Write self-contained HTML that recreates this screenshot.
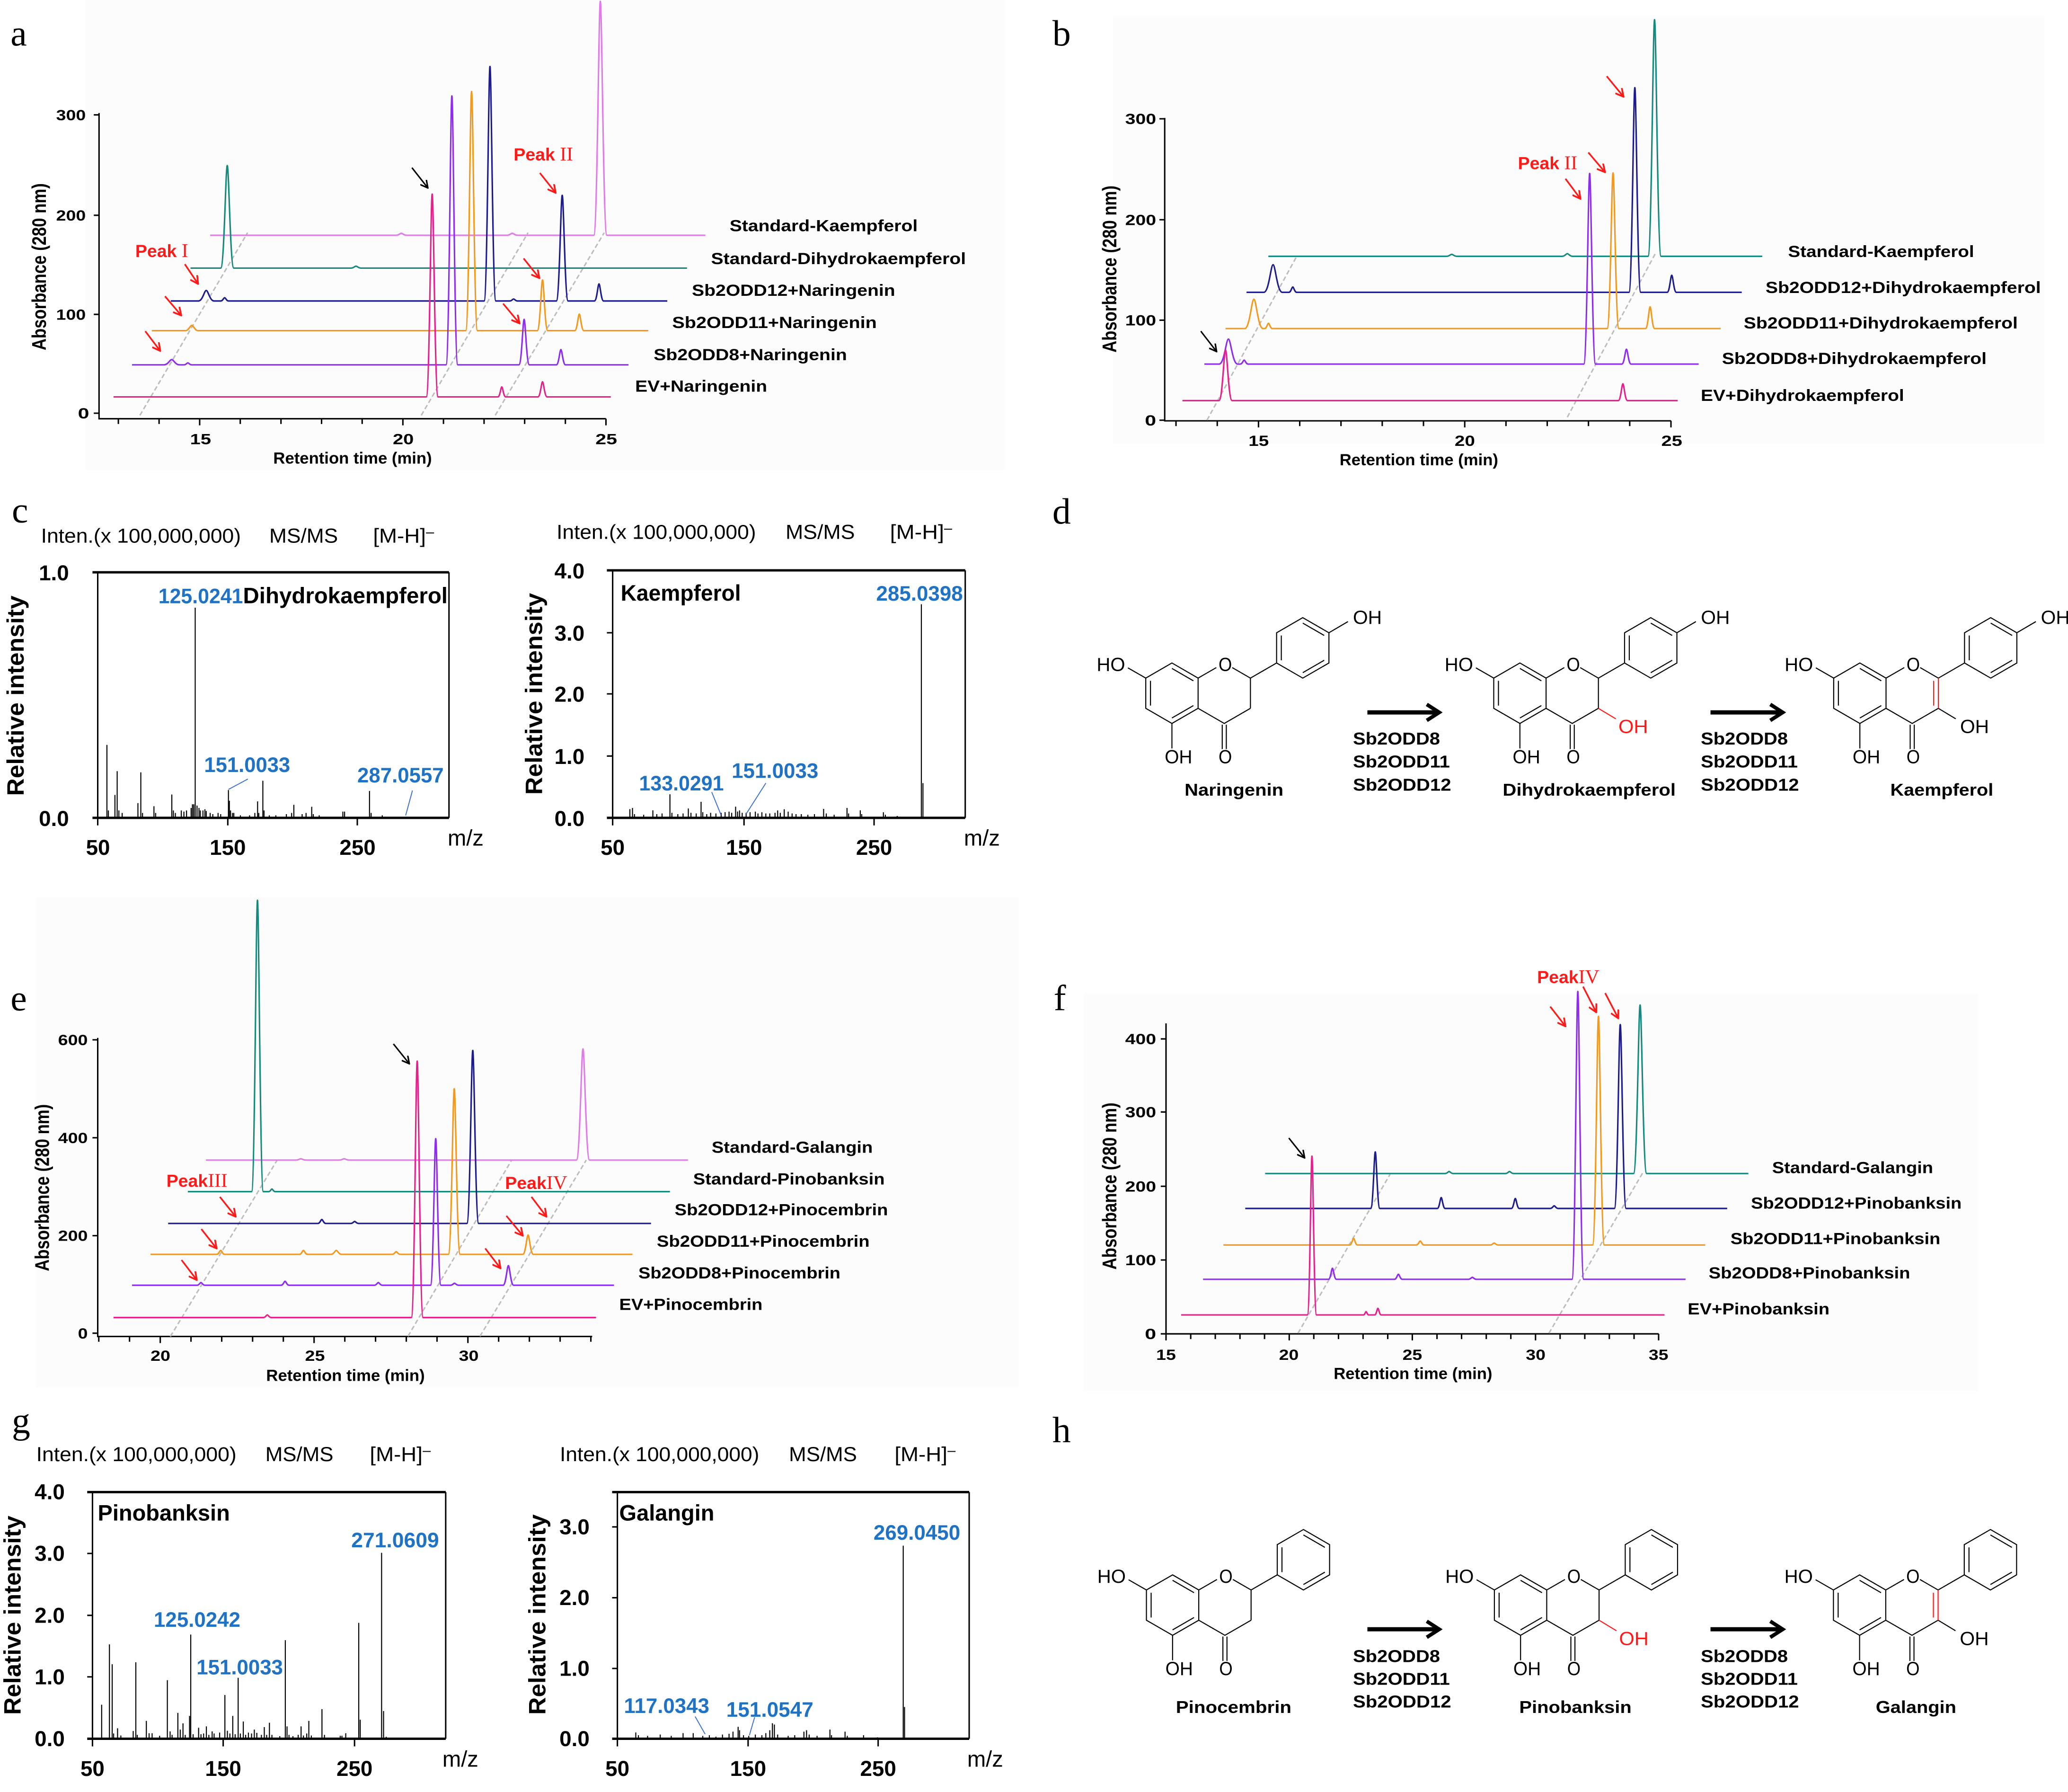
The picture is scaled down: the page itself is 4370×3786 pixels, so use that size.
<!DOCTYPE html>
<html><head><meta charset="utf-8"><style>
html,body{margin:0;padding:0;background:#fff}
svg{display:block}
.ax{stroke:#000;stroke-width:1.1;fill:none}
.tr{fill:none;stroke-width:1.15;stroke-linejoin:round}
.ds{stroke:#bdbdbd;stroke-width:1.1;stroke-dasharray:3.5 2;fill:none}
.ra{stroke:#ff1a1a;stroke-width:1.25;fill:none;marker-end:url(#ar)}
.ka{stroke:#000;stroke-width:1.1;fill:none;marker-end:url(#ak)}
.tk{font-weight:bold;font-size:11.5px}
.lb{font-weight:bold;font-size:12.5px}
.pk{fill:#ff1a1a;font-weight:bold;font-size:13.5px}
.rn{font-family:"Liberation Serif",serif;font-weight:normal;font-size:15px}
.bd{stroke:#000;stroke-width:.8;fill:none}
.ms{stroke:#000;stroke-width:.8;fill:none}
.bx{stroke:#000;stroke-width:1.1;fill:none}
.bt{stroke:#000;stroke-width:1.8;fill:none}
.bl{fill:#1f72c4;font-weight:bold;font-size:16px}
.bn{stroke:#3a6fd0;stroke-width:.7;fill:none}
.hd{font-size:15.5px}
.mt{font-weight:bold;font-size:16.5px}
.mz{font-size:17px}
.ri{font-weight:bold;font-size:18px}
.at{font-size:14.5px}
.nm{font-weight:bold;font-size:13px}
.let{font-family:"Liberation Serif",serif;font-size:28px}
</style></head><body>
<svg xmlns="http://www.w3.org/2000/svg" width="4370" height="3786" viewBox="0 0 1568 1358" preserveAspectRatio="none" font-family="'Liberation Sans', Arial, sans-serif">
<defs>
<marker id="ar" viewBox="0 0 10 10" refX="9" refY="5" markerWidth="7" markerHeight="7" markerUnits="userSpaceOnUse" orient="auto"><path d="M0.5,0.5 L9,5 L0.5,9.5" fill="none" stroke="#ff1a1a" stroke-width="1.9"/></marker>
<marker id="ak" viewBox="0 0 10 10" refX="9" refY="5" markerWidth="6.5" markerHeight="6.5" markerUnits="userSpaceOnUse" orient="auto"><path d="M0.5,0.5 L9,5 L0.5,9.5" fill="none" stroke="#000" stroke-width="1.8"/></marker>
</defs>
<rect width="1568" height="1358" fill="#fff"/>

<!-- ============ PANEL A ============ -->
<g transform="matrix(.996 0 0 .996 0 0)">
<rect x="65" y="0" width="700" height="358" fill="#fcfcfc"/>
<text class="let" x="8" y="34.5">a</text>
<path class="ax" d="M75.4,86V318.6H461.3"/>
<path class="ax" d="M71.4,87.4H75.4M71.4,163.8H75.4M71.4,239.2H75.4M71.4,314.4H75.4M90.1,318.6v4M121.1,318.6v4M152,318.6v5M182.9,318.6v4M213.9,318.6v4M244.8,318.6v4M275.7,318.6v4M306.7,318.6v5M337.6,318.6v4M368.5,318.6v4M399.4,318.6v4M430.4,318.6v4M461.3,318.6v5"/>
<text class="tk" x="42.7" y="91.4" textLength="22.6" lengthAdjust="spacingAndGlyphs">300</text>
<text class="tk" x="42.7" y="167.8" textLength="22.6" lengthAdjust="spacingAndGlyphs">200</text>
<text class="tk" x="42.7" y="243.2" textLength="22.6" lengthAdjust="spacingAndGlyphs">100</text>
<text class="tk" x="59.3" y="318.4" textLength="8.6" lengthAdjust="spacingAndGlyphs">0</text>
<text class="tk" x="144.7" y="338" textLength="16" lengthAdjust="spacingAndGlyphs">15</text>
<text class="tk" x="299" y="338" textLength="16" lengthAdjust="spacingAndGlyphs">20</text>
<text class="tk" x="453.3" y="338" textLength="16.5" lengthAdjust="spacingAndGlyphs">25</text>
<text class="lb" x="268.4" y="352.8" text-anchor="middle" font-size="12.3">Retention time (min)</text>
<text class="lb" transform="translate(34.9,203) rotate(-90) scale(1,1.2)" text-anchor="middle" font-size="13.5">Absorbance (280 nm)</text>

<path class="ds" d="M106.5,316L188.5,177M320.7,316L402,177M377,316L460,177"/>

<path class="tr" stroke="#e07be8" d="M160,179 H301.5 c2.2,0 3,-1.5 4,-1.5 c1,0 1.8,1.5 4,1.5 H386 c2.2,0 3,-1.5 4,-1.5 c1,0 1.8,1.5 4,1.5 H452 c2.75,0 3.75,-178 5,-178 c1.25,0 2.25,178 5,178 H537"/>
<path class="tr" stroke="#178a80" d="M145,204 H168 c2.75,0 3.75,-78 5,-78 c1.25,0 2.25,78 5,78 H267 c2.2,0 3,-1.5 4,-1.5 c1,0 1.8,1.5 4,1.5 H523"/>
<path class="tr" stroke="#1c1c8e" d="M130,229 H151 c3.3,0 4.5,-8 6,-8 c1.5,0 2.7,8 6,8 H168 c1.65,0 2.25,-2.5 3,-2.5 c.75,0 1.35,2.5 3,2.5 H368.5 c2.475,0 3.375,-178.4 4.5,-178.4 c1.125,0 2.025,178.4 4.5,178.4 H388 c1.65,0 2.25,-1.5 3,-1.5 c.75,0 1.35,1.5 3,1.5 H423.5 c2.475,0 3.375,-80.4 4.5,-80.4 c1.125,0 2.025,80.4 4.5,80.4 H452.5 c1.925,0 2.625,-13 3.5,-13 c.875,0 1.575,13 3.5,13 H508"/>
<path class="tr" stroke="#f39a1e" d="M115.6,251.6 H141 c2.75,0 3.75,-4 5,-4 c1.25,0 2.25,4 5,4 H354.5 c2.475,0 3.375,-182 4.5,-182 c1.125,0 2.025,182 4.5,182 H409 c2.2,0 3,-38.6 4,-38.6 c1,0 1.8,38.6 4,38.6 H437.5 c1.925,0 2.625,-12.6 3.5,-12.6 c.875,0 1.575,12.6 3.5,12.6 H493.5"/>
<path class="tr" stroke="#8e2cf0" d="M100.5,277.6 H124.7 c3.3,0 4.5,-4 6,-4 c1.5,0 2.7,4 6,4 H140 c1.65,0 2.25,-1.5 3,-1.5 c.75,0 1.35,1.5 3,1.5 H339.5 c2.475,0 3.375,-204.6 4.5,-204.6 c1.125,0 2.025,204.6 4.5,204.6 H395 c2.2,0 3,-34.6 4,-34.6 c1,0 1.8,34.6 4,34.6 H423.5 c1.925,0 2.625,-11.6 3.5,-11.6 c.875,0 1.575,11.6 3.5,11.6 H478.5"/>
<path class="tr" stroke="#e6218e" d="M86.4,302 H324.5 c2.475,0 3.375,-154.3 4.5,-154.3 c1.125,0 2.025,154.3 4.5,154.3 H379 c1.65,0 2.25,-7.6 3,-7.6 c.75,0 1.35,7.6 3,7.6 H409.5 c1.925,0 2.625,-11.5 3.5,-11.5 c.875,0 1.575,11.5 3.5,11.5 H465"/>

<path class="ra" d="M140.7,201L150.8,216"/><path class="ra" d="M125.6,225.4L138,240"/><path class="ra" d="M110.6,252L122,267"/><path class="ra" d="M411,131.6L423,146.7"/><path class="ra" d="M398.6,196.6L410.6,211.6"/><path class="ra" d="M383,231L395.5,246"/>
<path class="ka" d="M313.6,127.6L325.7,143"/>
<text class="pk" x="103" y="195.5">Peak<tspan class="rn"> I</tspan></text>
<text class="pk" x="391" y="122">Peak<tspan class="rn"> II</tspan></text>

<text class="lb" x="555.4" y="176" textLength="143.2" lengthAdjust="spacingAndGlyphs">Standard-Kaempferol</text>
<text class="lb" x="541.3" y="201" textLength="194" lengthAdjust="spacingAndGlyphs">Standard-Dihydrokaempferol</text>
<text class="lb" x="526.7" y="225" textLength="154.8" lengthAdjust="spacingAndGlyphs">Sb2ODD12+Naringenin</text>
<text class="lb" x="511.7" y="249.5" textLength="155.8" lengthAdjust="spacingAndGlyphs">Sb2ODD11+Naringenin</text>
<text class="lb" x="497.6" y="274" textLength="147.2" lengthAdjust="spacingAndGlyphs">Sb2ODD8+Naringenin</text>
<text class="lb" x="483.5" y="298" textLength="100.5" lengthAdjust="spacingAndGlyphs">EV+Naringenin</text>
</g>

<!-- ============ PANEL B ============ -->
<g transform="matrix(.996 0 0 .996 3.136 0)">
<rect x="844" y="12.7" width="709" height="325" fill="#fcfcfc"/>
<text class="let" x="798" y="34.5">b</text>
<path class="ax" d="M883.5,89.7V320.2H1269"/>
<path class="ax" d="M879.5,90.4H883.5M879.5,167.2H883.5M879.5,243.6H883.5M879.5,319.7H883.5M892.1,320.2v4M923.5,320.2v4M954.9,320.2v5M986.3,320.2v4M1017.7,320.2v4M1049.1,320.2v4M1080.5,320.2v4M1111.9,320.2v5M1143.3,320.2v4M1174.7,320.2v4M1206.1,320.2v4M1237.5,320.2v4M1268.9,320.2v5"/>
<text class="tk" x="853.4" y="94.4" textLength="23.6" lengthAdjust="spacingAndGlyphs">300</text>
<text class="tk" x="853.4" y="171.2" textLength="23.6" lengthAdjust="spacingAndGlyphs">200</text>
<text class="tk" x="853.4" y="247.6" textLength="23.6" lengthAdjust="spacingAndGlyphs">100</text>
<text class="tk" x="868.4" y="323.7" textLength="8.6" lengthAdjust="spacingAndGlyphs">0</text>
<text class="tk" x="947.3" y="339.3" textLength="15.5" lengthAdjust="spacingAndGlyphs">15</text>
<text class="tk" x="1104.2" y="339.3" textLength="15.5" lengthAdjust="spacingAndGlyphs">20</text>
<text class="tk" x="1261.5" y="339.3" textLength="16" lengthAdjust="spacingAndGlyphs">25</text>
<text class="lb" x="1077" y="354" text-anchor="middle" font-size="12.3">Retention time (min)</text>
<text class="lb" transform="translate(846.6,204.7) rotate(-90) scale(1,1.2)" text-anchor="middle" font-size="13.5">Absorbance (280 nm)</text>

<path class="ds" d="M915.7,319.7L984,195M1190,317.4L1257.5,192"/>

<path class="tr" stroke="#178a80" d="M962.4,195 H1098 c2.2,0 3,-1.5 4,-1.5 c1,0 1.8,1.5 4,1.5 H1186 c2.2,0 3,-2 4,-2 c1,0 1.8,2 4,2 H1251.4 c2.75,0 3.75,-180 5,-180 c1.25,0 2.25,180 5,180 H1338.4"/>
<path class="tr" stroke="#1c1c8e" d="M945.8,222.4 H959 c3.85,0 5.25,-21 7,-21 c1.75,0 3.15,21 7,21 H978 c1.65,0 2.25,-4 3,-4 c.75,0 1.35,4 3,4 H1236.9 c2.475,0 3.375,-155.7 4.5,-155.7 c1.125,0 2.025,155.7 4.5,155.7 H1266 c1.925,0 2.625,-13 3.5,-13 c.875,0 1.575,13 3.5,13 H1322.8"/>
<path class="tr" stroke="#f39a1e" d="M929.8,250 H944.4 c3.85,0 5.25,-22.3 7,-22.3 c1.75,0 3.15,22.3 7,22.3 H959.5 c1.65,0 2.25,-4 3,-4 c.75,0 1.35,4 3,4 H1220.3 c2.475,0 3.375,-118.4 4.5,-118.4 c1.125,0 2.025,118.4 4.5,118.4 H1249.5 c1.925,0 2.625,-16.5 3.5,-16.5 c.875,0 1.575,16.5 3.5,16.5 H1306.7"/>
<path class="tr" stroke="#8e2cf0" d="M913.7,277 H925 c3.85,0 5.25,-19 7,-19 c1.75,0 3.15,19 7,19 H941 c1.65,0 2.25,-3 3,-3 c.75,0 1.35,3 3,3 H1202.5 c2.475,0 3.375,-145 4.5,-145 c1.125,0 2.025,145 4.5,145 H1231.5 c1.925,0 2.625,-11.3 3.5,-11.3 c.875,0 1.575,11.3 3.5,11.3 H1290"/>
<path class="tr" stroke="#e6218e" d="M897,304.8 H924.8 c2.75,0 3.75,-38.5 5,-38.5 c1.25,0 2.25,38.5 5,38.5 H1228.8 c1.925,0 2.625,-12.8 3.5,-12.8 c.875,0 1.575,12.8 3.5,12.8 H1274"/>

<path class="ra" d="M1188.6,136L1200,151.3"/><path class="ra" d="M1206,116L1218.7,131"/><path class="ra" d="M1220,58L1232.8,73.6"/>
<path class="ka" d="M911,252L923,267.5"/>
<text class="pk" x="1152.4" y="128.8">Peak<tspan class="rn"> II</tspan></text>

<text class="lb" x="1358" y="195.5" textLength="141.7" lengthAdjust="spacingAndGlyphs">Standard-Kaempferol</text>
<text class="lb" x="1340.9" y="223" textLength="209.6" lengthAdjust="spacingAndGlyphs">Sb2ODD12+Dihydrokaempferol</text>
<text class="lb" x="1324.3" y="250" textLength="208.6" lengthAdjust="spacingAndGlyphs">Sb2ODD11+Dihydrokaempferol</text>
<text class="lb" x="1307.7" y="277" textLength="201.5" lengthAdjust="spacingAndGlyphs">Sb2ODD8+Dihydrokaempferol</text>
<text class="lb" x="1291.6" y="305" textLength="154.8" lengthAdjust="spacingAndGlyphs">EV+Dihydrokaempferol</text>
</g>

<!-- ============ PANEL C ============ -->
<g transform="matrix(.996 0 0 .996 0 1.435)">
<text class="let" x="9" y="396" font-size="27">c</text>
<text class="hd" x="31.2" y="411.4" textLength="152.2" lengthAdjust="spacingAndGlyphs">Inten.(x 100,000,000)</text>
<text class="hd" x="205" y="411.4" textLength="52.3" lengthAdjust="spacingAndGlyphs">MS/MS</text>
<text class="hd" x="284" y="411.4" textLength="40.2" lengthAdjust="spacingAndGlyphs">[M-H]</text>
<text x="324.3" y="407" font-size="11">–</text>
<text class="hd" x="423.7" y="408.5" textLength="151.8" lengthAdjust="spacingAndGlyphs">Inten.(x 100,000,000)</text>
<text class="hd" x="598" y="408.5" textLength="52.8" lengthAdjust="spacingAndGlyphs">MS/MS</text>
<text class="hd" x="677.5" y="408.5" textLength="41.2" lengthAdjust="spacingAndGlyphs">[M-H]</text>
<text x="718.7" y="404" font-size="11">–</text>

<!-- left box -->
<path class="bt" d="M70.4,434H341.8M70.4,620.8H341.8"/>
<path class="bx" d="M74.4,434V626.6M341.8,434V620.8M173.4,620.8V626.6M272,620.8V626.6"/>
<text class="mt" x="52.5" y="440" text-anchor="end">1.0</text>
<text class="mt" x="52.5" y="627" text-anchor="end">0.0</text>
<text class="mt" x="74.6" y="649" text-anchor="middle" font-size="17">50</text>
<text class="mt" x="173.4" y="649" text-anchor="middle" font-size="17">150</text>
<text class="mt" x="272.2" y="649" text-anchor="middle" font-size="17">250</text>
<text class="mz" x="340.8" y="642">m/z</text>
<text class="ri" transform="translate(18.1,527.9) rotate(-90)" text-anchor="middle" textLength="152.4" lengthAdjust="spacingAndGlyphs">Relative intensity</text>
<path class="ms" d="M81.4,620.8V565.3M82.5,620.8V615.2M87.5,620.8V603.4M89.2,620.8V585.3M90.5,620.8V615.2M93,620.8V617.1M105,620.8V609.6M107.2,620.8V586.2M108.5,620.8V617.1M117.2,620.8V612M118.5,620.8V617.1M130.8,620.8V603.1M132,620.8V615.2M133.5,620.8V617.1M138,620.8V615.2M140,620.8V616.1M142,620.8V615.2M145.5,620.8V613.3M146.5,620.8V610.5M147.5,620.8V610.5M148.6,620.8V460.9M150,620.8V611.5M151.5,620.8V613.3M152.5,620.8V615.2M154.5,620.8V615.2M156,620.8V614.3M157,620.8V615.6M160,620.8V617.1M162,620.8V618M166,620.8V617.1M168,620.8V618M173.9,620.8V599.7M174.6,620.8V607.8M175.5,620.8V615.2M177,620.8V617.1M178,620.8V617.1M183,620.8V618.9M190,620.8V618.9M194,620.8V617.1M196.1,620.8V608.3M197,620.8V617.1M200.1,620.8V592.6M201,620.8V615.2M205,620.8V618.9M210,620.8V618.9M218,620.8V618M222,620.8V617.1M223.7,620.8V610.9M230,620.8V618M233,620.8V617.1M237.3,620.8V612.4M238.5,620.8V618M243,620.8V618.9M261,620.8V616.1M262.3,620.8V616.1M281.3,620.8V600.4M282.5,620.8V617.1M291,620.8V618.9"/>
<text class="bl" x="120.6" y="457.5" textLength="64.4" lengthAdjust="spacingAndGlyphs">125.0241</text>
<text x="185" y="457.5" font-weight="bold" font-size="17" textLength="155.8" lengthAdjust="spacingAndGlyphs">Dihydrokaempferol</text>
<text class="bl" x="155.4" y="586" textLength="65.5" lengthAdjust="spacingAndGlyphs">151.0033</text>
<text class="bl" x="272" y="593.8" textLength="65.8" lengthAdjust="spacingAndGlyphs">287.0557</text>
<path class="bn" d="M188.7,591.3L173.9,599.2M314,600L308.8,619"/>

<!-- right box -->
<path class="bt" d="M462,432.5H734.8M462,620.8H734.8"/>
<path class="bx" d="M466.4,432.5V626.6M734.8,432.5V620.8M462,480H466.4M462,526.5H466.4M462,573.8H466.4M566.4,620.8V626.6M665.4,620.8V626.6"/>
<text class="mt" x="445" y="438.6" text-anchor="end">4.0</text>
<text class="mt" x="445" y="486" text-anchor="end">3.0</text>
<text class="mt" x="445" y="532.5" text-anchor="end">2.0</text>
<text class="mt" x="445" y="579.8" text-anchor="end">1.0</text>
<text class="mt" x="445" y="627" text-anchor="end">0.0</text>
<text class="mt" x="466.4" y="649" text-anchor="middle" font-size="17">50</text>
<text class="mt" x="566.4" y="649" text-anchor="middle" font-size="17">150</text>
<text class="mt" x="665.4" y="649" text-anchor="middle" font-size="17">250</text>
<text class="mz" x="733.8" y="642">m/z</text>
<text class="ri" transform="translate(412.7,526.5) rotate(-90)" text-anchor="middle" textLength="153.5" lengthAdjust="spacingAndGlyphs">Relative intensity</text>
<path class="ms" d="M701.4,620.8V458.3M702.6,620.8V594.4M479.5,620.8V614.2M481.5,620.8V613.3M483,620.8V618M490,620.8V618.5M497,620.8V615.1M500,620.8V618M504,620.8V617.5M510,620.8V602.9M511.5,620.8V617M516,620.8V618M520,620.8V617.5M524,620.8V613.7M526,620.8V617M530,620.8V617.5M533.7,620.8V608.6M535,620.8V616.5M538,620.8V618M541,620.8V617M545,620.8V617.5M549,620.8V617M552,620.8V616.5M555,620.8V616.1M557,620.8V617M560,620.8V612.3M561.5,620.8V616M563,620.8V615.2M565,620.8V617M568,620.8V617M571,620.8V616.5M575,620.8V616.1M577,620.8V617.5M580,620.8V616.6M583,620.8V617.5M586,620.8V617.5M590,620.8V617M592,620.8V615.2M594,620.8V617M597,620.8V614.3M600,620.8V616.1M603,620.8V617.5M606,620.8V618M610,620.8V618M615,620.8V618.5M620,620.8V618M627,620.8V614M629,620.8V617.5M635,620.8V618.5M644.8,620.8V613.3M646,620.8V617.5M654.9,620.8V615.1M656,620.8V618M672.5,620.8V616.6M674,620.8V618.5M683,620.8V619.4"/>
<text x="472.5" y="455.6" font-weight="bold" font-size="17" textLength="91.5" lengthAdjust="spacingAndGlyphs">Kaempferol</text>
<text class="bl" x="667" y="455.6" textLength="66" lengthAdjust="spacingAndGlyphs">285.0398</text>
<text class="bl" x="486.5" y="600" textLength="64.5" lengthAdjust="spacingAndGlyphs">133.0291</text>
<text class="bl" x="557" y="590.5" textLength="66" lengthAdjust="spacingAndGlyphs">151.0033</text>
<path class="bn" d="M541.8,601.2L548.8,618.4M583,594.4L568,617.9"/>
</g>

<!-- ============ PANEL D ============ -->
<g transform="matrix(.996 0 0 .996 3.136 1.435)">
<text class="let" x="798" y="396.9">d</text>
<g transform="translate(889,526)">
<path class="bd" d="M0,-23L19.92,-11.5L19.92,11.5L0,23L-19.92,11.5L-19.92,-11.5Z M-16.33,-9.43V9.43 M0,-18.86L16.33,-9.43 M0,18.86L16.33,9.43 M19.92,-11.5L33.8,-19.5 M45.9,-19.5L59.76,-11.5 M59.76,11.5L39.84,23L19.92,11.5 M38.3,23.9V42.5 M41.4,23.9V42.5 M0,23V42 M-19.92,-11.5L-33.5,-19.3 M59.76,-11.5L79.68,-23 M99.6,-57.5L119.52,-46L119.52,-23L99.6,-11.5L79.68,-23L79.68,-46Z M83.27,-43.93V-25.07 M99.6,-53.36L115.93,-43.93 M99.6,-15.64L115.93,-25.07 M119.52,-46L134,-54.5 M59.76,-11.5V11.5"/>
<text class="at" x="-57.3" y="-17" textLength="21.7" lengthAdjust="spacingAndGlyphs">HO</text>
<text class="at" x="35.5" y="-17" textLength="10.2" lengthAdjust="spacingAndGlyphs">O</text>
<text class="at" x="-5.5" y="53.3" textLength="21" lengthAdjust="spacingAndGlyphs">OH</text>
<text class="at" x="35.5" y="53.3" textLength="10.2" lengthAdjust="spacingAndGlyphs">O</text>
<text class="at" x="137.8" y="-52.8" textLength="22" lengthAdjust="spacingAndGlyphs">OH</text>
</g>
<g transform="translate(1153.9,526)">
<path class="bd" d="M0,-23L19.92,-11.5L19.92,11.5L0,23L-19.92,11.5L-19.92,-11.5Z M-16.33,-9.43V9.43 M0,-18.86L16.33,-9.43 M0,18.86L16.33,9.43 M19.92,-11.5L33.8,-19.5 M45.9,-19.5L59.76,-11.5 M59.76,11.5L39.84,23L19.92,11.5 M38.3,23.9V42.5 M41.4,23.9V42.5 M0,23V42 M-19.92,-11.5L-33.5,-19.3 M59.76,-11.5L79.68,-23 M99.6,-57.5L119.52,-46L119.52,-23L99.6,-11.5L79.68,-23L79.68,-46Z M83.27,-43.93V-25.07 M99.6,-53.36L115.93,-43.93 M99.6,-15.64L115.93,-25.07 M119.52,-46L134,-54.5 M59.76,-11.5V11.5"/>
<path d="M59.76,11.5L73,19.5" stroke="#ff1a1a" stroke-width=".8"/>
<text class="at" x="-57.3" y="-17" textLength="21.7" lengthAdjust="spacingAndGlyphs">HO</text>
<text class="at" x="35.5" y="-17" textLength="10.2" lengthAdjust="spacingAndGlyphs">O</text>
<text class="at" x="-5.5" y="53.3" textLength="21" lengthAdjust="spacingAndGlyphs">OH</text>
<text class="at" x="35.5" y="53.3" textLength="10.2" lengthAdjust="spacingAndGlyphs">O</text>
<text class="at" x="137.8" y="-52.8" textLength="22" lengthAdjust="spacingAndGlyphs">OH</text>
<text class="at" x="75" y="30.3" fill="#ff1a1a" textLength="22.5" lengthAdjust="spacingAndGlyphs">OH</text>
</g>
<g transform="translate(1412.7,526)">
<path class="bd" d="M0,-23L19.92,-11.5L19.92,11.5L0,23L-19.92,11.5L-19.92,-11.5Z M-16.33,-9.43V9.43 M0,-18.86L16.33,-9.43 M0,18.86L16.33,9.43 M19.92,-11.5L33.8,-19.5 M45.9,-19.5L59.76,-11.5 M59.76,11.5L39.84,23L19.92,11.5 M38.3,23.9V42.5 M41.4,23.9V42.5 M0,23V42 M-19.92,-11.5L-33.5,-19.3 M59.76,-11.5L79.68,-23 M99.6,-57.5L119.52,-46L119.52,-23L99.6,-11.5L79.68,-23L79.68,-46Z M83.27,-43.93V-25.07 M99.6,-53.36L115.93,-43.93 M99.6,-15.64L115.93,-25.07 M119.52,-46L134,-54.5 M59.76,11.5L73,19.5"/>
<path d="M59.76,-11.5V11.5M56.17,-9.43V9.43" stroke="#ff1a1a" stroke-width=".8"/>
<text class="at" x="-57.3" y="-17" textLength="21.7" lengthAdjust="spacingAndGlyphs">HO</text>
<text class="at" x="35.5" y="-17" textLength="10.2" lengthAdjust="spacingAndGlyphs">O</text>
<text class="at" x="-5.5" y="53.3" textLength="21" lengthAdjust="spacingAndGlyphs">OH</text>
<text class="at" x="35.5" y="53.3" textLength="10.2" lengthAdjust="spacingAndGlyphs">O</text>
<text class="at" x="137.8" y="-52.8" textLength="22" lengthAdjust="spacingAndGlyphs">OH</text>
<text class="at" x="76.3" y="30.3" textLength="22" lengthAdjust="spacingAndGlyphs">OH</text>
</g>
<path d="M1037.8,540.6H1090M1299,540.6H1351.5" stroke="#000" stroke-width="3.2"/>
<path d="M1083,534.5L1092.5,540.6L1083,546.7M1344.5,534.5L1354,540.6L1344.5,546.7" fill="none" stroke="#000" stroke-width="2.8"/>
<text class="nm" x="1026.8" y="565" textLength="66.3" lengthAdjust="spacingAndGlyphs">Sb2ODD8</text>
<text class="nm" x="1026.8" y="582.6" textLength="73.8" lengthAdjust="spacingAndGlyphs">Sb2ODD11</text>
<text class="nm" x="1026.8" y="600.2" textLength="74.8" lengthAdjust="spacingAndGlyphs">Sb2ODD12</text>
<text class="nm" x="1291.6" y="565" textLength="66.3" lengthAdjust="spacingAndGlyphs">Sb2ODD8</text>
<text class="nm" x="1291.6" y="582.6" textLength="73.8" lengthAdjust="spacingAndGlyphs">Sb2ODD11</text>
<text class="nm" x="1291.6" y="600.2" textLength="74.8" lengthAdjust="spacingAndGlyphs">Sb2ODD12</text>
<text class="nm" x="898.6" y="604" textLength="75.3" lengthAdjust="spacingAndGlyphs">Naringenin</text>
<text class="nm" x="1140.8" y="604" textLength="131.7" lengthAdjust="spacingAndGlyphs">Dihydrokaempferol</text>
<text class="nm" x="1435.9" y="604" textLength="78.4" lengthAdjust="spacingAndGlyphs">Kaempferol</text>
</g>

<!-- ============ PANEL E ============ -->
<g transform="matrix(.996 0 0 .996 0 2.655)">
<rect x="27.6" y="680" width="748" height="373" fill="#fcfcfc"/>
<text class="let" x="8" y="766">e</text>
<path class="ax" d="M74.4,787V1014.2H450.8"/>
<path class="ax" d="M70.4,788.5H74.4M70.4,863H74.4M70.4,937.5H74.4M70.4,1011.7H74.4M75.2,1014.2v4M98.6,1014.2v4M122,1014.2v5M145.4,1014.2v4M168.8,1014.2v4M192.3,1014.2v4M215.7,1014.2v4M239.1,1014.2v5M262.5,1014.2v4M285.9,1014.2v4M309.3,1014.2v4M332.7,1014.2v4M356.2,1014.2v5M379.6,1014.2v4M403,1014.2v4M426.4,1014.2v4M449.8,1014.2v4"/>
<text class="tk" x="44.2" y="792.5" textLength="22.6" lengthAdjust="spacingAndGlyphs">600</text>
<text class="tk" x="44.2" y="867" textLength="22.6" lengthAdjust="spacingAndGlyphs">400</text>
<text class="tk" x="44.2" y="941.5" textLength="22.6" lengthAdjust="spacingAndGlyphs">200</text>
<text class="tk" x="59.3" y="1015.7" textLength="7.5" lengthAdjust="spacingAndGlyphs">0</text>
<text class="tk" x="114.6" y="1032.7" textLength="15.1" lengthAdjust="spacingAndGlyphs">20</text>
<text class="tk" x="232.2" y="1032.7" textLength="15.1" lengthAdjust="spacingAndGlyphs">25</text>
<text class="tk" x="349.3" y="1032.7" textLength="15.1" lengthAdjust="spacingAndGlyphs">30</text>
<text class="lb" x="263" y="1048" text-anchor="middle" font-size="12">Retention time (min)</text>
<text class="lb" transform="translate(37.3,901) rotate(-90) scale(1,1.2)" text-anchor="middle" font-size="13.3">Absorbance (280 nm)</text>

<path class="ds" d="M129.7,1014.2L211,880M310.6,1014L389.5,880M365.4,1014L446.3,880"/>

<path class="tr" stroke="#e07be8" d="M156.8,880 H225 c2.2,0 3,-1 4,-1 c1,0 1.8,1 4,1 H258 c2.2,0 3,-1 4,-1 c1,0 1.8,1 4,1 H438.8 c2.75,0 3.75,-84.6 5,-84.6 c1.25,0 2.25,84.6 5,84.6 H523.7"/>
<path class="tr" stroke="#178a80" d="M143,904 H191.5 c2.475,0 3.375,-221.7 4.5,-221.7 c1.125,0 2.025,221.7 4.5,221.7 H204.5 c1.375,0 1.875,-2 2.5,-2 c.625,0 1.125,2 2.5,2 H510"/>
<path class="tr" stroke="#1c1c8e" d="M128,928.2 H242 c1.65,0 2.25,-3 3,-3 c.75,0 1.35,3 3,3 H267 c1.65,0 2.25,-1.5 3,-1.5 c.75,0 1.35,1.5 3,1.5 H355.4 c2.475,0 3.375,-131.6 4.5,-131.6 c1.125,0 2.025,131.6 4.5,131.6 H495.6"/>
<path class="tr" stroke="#f39a1e" d="M114.6,951.7 H165 c1.65,0 2.25,-3 3,-3 c.75,0 1.35,3 3,3 H228 c1.65,0 2.25,-3 3,-3 c.75,0 1.35,3 3,3 H252 c2.2,0 3,-3 4,-3 c1,0 1.8,3 4,3 H298.6 c1.65,0 2.25,-2 3,-2 c.75,0 1.35,2 3,2 H341.3 c2.475,0 3.375,-126 4.5,-126 c1.125,0 2.025,126 4.5,126 H398 c2.2,0 3,-14.7 4,-14.7 c1,0 1.8,14.7 4,14.7 H481.5"/>
<path class="tr" stroke="#8e2cf0" d="M100.5,975.2 H150 c1.65,0 2.25,-2 3,-2 c.75,0 1.35,2 3,2 H214 c1.65,0 2.25,-3 3,-3 c.75,0 1.35,3 3,3 H285 c1.65,0 2.25,-2 3,-2 c.75,0 1.35,2 3,2 H327.7 c2.2,0 3,-111.5 4,-111.5 c1,0 1.8,111.5 4,111.5 H343 c1.65,0 2.25,-1.5 3,-1.5 c.75,0 1.35,1.5 3,1.5 H383 c2.2,0 3,-14.9 4,-14.9 c1,0 1.8,14.9 4,14.9 H467.4"/>
<path class="tr" stroke="#e6218e" d="M86.4,999.8 H200.5 c1.65,0 2.25,-2 3,-2 c.75,0 1.35,2 3,2 H313.1 c2.475,0 3.375,-195.1 4.5,-195.1 c1.125,0 2.025,195.1 4.5,195.1 H453.8"/>

<path class="ra" d="M167.4,908L179.4,923"/><path class="ra" d="M153.3,932.5L164.9,947.2"/><path class="ra" d="M138.2,956L149.8,971.2"/><path class="ra" d="M404.6,908L416,923"/><path class="ra" d="M385.5,922.4L398,937.5"/><path class="ra" d="M369.4,947.2L381,962.3"/>
<path class="ka" d="M299.5,791.6L311.6,806.7"/>
<text class="pk" x="126.7" y="900.4">Peak<tspan class="rn">III</tspan></text>
<text class="pk" x="384.5" y="902">Peak<tspan class="rn">IV</tspan></text>

<text class="lb" x="541.8" y="874.5" textLength="122.6" lengthAdjust="spacingAndGlyphs">Standard-Galangin</text>
<text class="lb" x="527.7" y="898.5" textLength="145.8" lengthAdjust="spacingAndGlyphs">Standard-Pinobanksin</text>
<text class="lb" x="513.6" y="922" textLength="162.4" lengthAdjust="spacingAndGlyphs">Sb2ODD12+Pinocembrin</text>
<text class="lb" x="500" y="946" textLength="162" lengthAdjust="spacingAndGlyphs">Sb2ODD11+Pinocembrin</text>
<text class="lb" x="486" y="970" textLength="153.8" lengthAdjust="spacingAndGlyphs">Sb2ODD8+Pinocembrin</text>
<text class="lb" x="471.4" y="994" textLength="109.1" lengthAdjust="spacingAndGlyphs">EV+Pinocembrin</text>
</g>

<!-- ============ PANEL F ============ -->
<g transform="matrix(.996 0 0 .996 3.136 2.655)">
<rect x="821.7" y="753.6" width="681" height="302" fill="#fcfcfc"/>
<text class="let" x="799" y="766">f</text>
<path class="ax" d="M884.5,776V1012.2H1259.5"/>
<path class="ax" d="M880.5,787.8H884.5M880.5,843.4H884.5M880.5,899.9H884.5M880.5,956H884.5M880.5,1012.2H884.5M884.5,1012.2v5M903.3,1012.2v4M922,1012.2v4M940.8,1012.2v4M959.5,1012.2v4M978.3,1012.2v5M997,1012.2v4M1015.8,1012.2v4M1034.5,1012.2v4M1053.3,1012.2v4M1072,1012.2v5M1090.8,1012.2v4M1109.5,1012.2v4M1128.3,1012.2v4M1147,1012.2v4M1165.8,1012.2v5M1184.5,1012.2v4M1203.3,1012.2v4M1222,1012.2v4M1240.8,1012.2v4M1259.5,1012.2v5"/>
<text class="tk" x="853.4" y="791.8" textLength="23.6" lengthAdjust="spacingAndGlyphs">400</text>
<text class="tk" x="853.4" y="847.4" textLength="23.6" lengthAdjust="spacingAndGlyphs">300</text>
<text class="tk" x="853.4" y="903.9" textLength="23.6" lengthAdjust="spacingAndGlyphs">200</text>
<text class="tk" x="853.4" y="960" textLength="23.6" lengthAdjust="spacingAndGlyphs">100</text>
<text class="tk" x="868.4" y="1016.2" textLength="8.6" lengthAdjust="spacingAndGlyphs">0</text>
<text class="tk" x="877" y="1032" textLength="15" lengthAdjust="spacingAndGlyphs">15</text>
<text class="tk" x="970.5" y="1032" textLength="15" lengthAdjust="spacingAndGlyphs">20</text>
<text class="tk" x="1064.5" y="1032" textLength="15" lengthAdjust="spacingAndGlyphs">25</text>
<text class="tk" x="1158.4" y="1032" textLength="15" lengthAdjust="spacingAndGlyphs">30</text>
<text class="tk" x="1251.9" y="1032" textLength="15" lengthAdjust="spacingAndGlyphs">35</text>
<text class="lb" x="1072.5" y="1046.5" text-anchor="middle" font-size="12">Retention time (min)</text>
<text class="lb" transform="translate(846.6,899.8) rotate(-90) scale(1,1.2)" text-anchor="middle" font-size="13.3">Absorbance (280 nm)</text>

<path class="ds" d="M985,1011.7L1055.4,890.2M1176,1011.7L1247.4,889.7"/>

<path class="tr" stroke="#178a80" d="M960,890.2 H1097 c1.65,0 2.25,-1.5 3,-1.5 c.75,0 1.35,1.5 3,1.5 H1143 c1.65,0 2.25,-1.5 3,-1.5 c.75,0 1.35,1.5 3,1.5 H1240.4 c2.75,0 3.75,-128.2 5,-128.2 c1.25,0 2.25,128.2 5,128.2 H1327.8"/>
<path class="tr" stroke="#1c1c8e" d="M944.8,916.8 H1040.3 c1.925,0 2.625,-43 3.5,-43 c.875,0 1.575,43 3.5,43 H1091 c1.65,0 2.25,-8.3 3,-8.3 c.75,0 1.35,8.3 3,8.3 H1147.4 c1.65,0 2.25,-7.6 3,-7.6 c.75,0 1.35,7.6 3,7.6 H1177 c1.65,0 2.25,-2 3,-2 c.75,0 1.35,2 3,2 H1225.8 c2.475,0 3.375,-139.9 4.5,-139.9 c1.125,0 2.025,139.9 4.5,139.9 H1311.7"/>
<path class="tr" stroke="#f39a1e" stroke-width=".7" d="M928.2,944.6 H1024.3 c1.65,0 2.25,-5 3,-5 c.75,0 1.35,5 3,5 H1075 c1.65,0 2.25,-3 3,-3 c.75,0 1.35,3 3,3 H1131.3 c1.65,0 2.25,-1.5 3,-1.5 c.75,0 1.35,1.5 3,1.5 H1209.2 c2.475,0 3.375,-174 4.5,-174 c1.125,0 2.025,174 4.5,174 H1295"/>
<path class="tr" stroke="#8e2cf0" d="M912.7,970.7 H1008.2 c1.65,0 2.25,-8.4 3,-8.4 c.75,0 1.35,8.4 3,8.4 H1058.4 c1.65,0 2.25,-3.8 3,-3.8 c.75,0 1.35,3.8 3,3.8 H1114.7 c1.65,0 2.25,-1.5 3,-1.5 c.75,0 1.35,1.5 3,1.5 H1193.5 c2.475,0 3.375,-219 4.5,-219 c1.125,0 2.025,219 4.5,219 H1280"/>
<path class="tr" stroke="#e6218e" d="M896,997.8 H992.1 c1.925,0 2.625,-120.8 3.5,-120.8 c.875,0 1.575,120.8 3.5,120.8 H1034.8 c1.1,0 1.5,-2.5 2,-2.5 c.5,0 .9,2.5 2,2.5 H1043.3 c1.375,0 1.875,-5 2.5,-5 c.625,0 1.125,5 2.5,5 H1264"/>

<path class="ra" d="M1177,763.2L1188.6,778.2"/><path class="ra" d="M1202,748L1212,767.5"/><path class="ra" d="M1218.8,752.9L1228.8,772.1"/>
<path class="ka" d="M978,863.2L990,878.3"/>
<text class="pk" x="1167" y="745.3">Peak<tspan class="rn">IV</tspan></text>

<text class="lb" x="1345.9" y="890" textLength="122.6" lengthAdjust="spacingAndGlyphs">Standard-Galangin</text>
<text class="lb" x="1329.8" y="917" textLength="160.4" lengthAdjust="spacingAndGlyphs">Sb2ODD12+Pinobanksin</text>
<text class="lb" x="1314.2" y="944" textLength="159.8" lengthAdjust="spacingAndGlyphs">Sb2ODD11+Pinobanksin</text>
<text class="lb" x="1297.6" y="970" textLength="153.4" lengthAdjust="spacingAndGlyphs">Sb2ODD8+Pinobanksin</text>
<text class="lb" x="1281.6" y="997.5" textLength="108" lengthAdjust="spacingAndGlyphs">EV+Pinobanksin</text>
</g>

<!-- ============ PANEL G ============ -->
<g transform="matrix(.996 0 0 .996 0 4.234)">
<text class="let" x="9" y="1086">g</text>
<text class="hd" x="27.6" y="1107.5" textLength="152.4" lengthAdjust="spacingAndGlyphs">Inten.(x 100,000,000)</text>
<text class="hd" x="202" y="1107.5" textLength="51.8" lengthAdjust="spacingAndGlyphs">MS/MS</text>
<text class="hd" x="281.5" y="1107.5" textLength="40.2" lengthAdjust="spacingAndGlyphs">[M-H]</text>
<text x="321.8" y="1103" font-size="11">–</text>
<text class="hd" x="426.2" y="1107.5" textLength="151.8" lengthAdjust="spacingAndGlyphs">Inten.(x 100,000,000)</text>
<text class="hd" x="600.6" y="1107.5" textLength="51.8" lengthAdjust="spacingAndGlyphs">MS/MS</text>
<text class="hd" x="681" y="1107.5" textLength="40.2" lengthAdjust="spacingAndGlyphs">[M-H]</text>
<text x="721.3" y="1103" font-size="11">–</text>

<path class="bt" d="M66.4,1131H339.3M66.4,1318.7H339.3"/>
<path class="bx" d="M70.4,1131V1324.5M339.3,1131V1318.7M66.4,1177.7H70.4M66.4,1224.8H70.4M66.4,1271.6H70.4M169.9,1318.7V1324.5M269.9,1318.7V1324.5"/>
<text class="mt" x="49.3" y="1136.4" text-anchor="end">4.0</text>
<text class="mt" x="49.3" y="1183.3" text-anchor="end">3.0</text>
<text class="mt" x="49.3" y="1230.4" text-anchor="end">2.0</text>
<text class="mt" x="49.3" y="1277.2" text-anchor="end">1.0</text>
<text class="mt" x="49.3" y="1324.3" text-anchor="end">0.0</text>
<text class="mt" x="70.4" y="1347" text-anchor="middle" font-size="17">50</text>
<text class="mt" x="169.9" y="1347" text-anchor="middle" font-size="17">150</text>
<text class="mt" x="269.9" y="1347" text-anchor="middle" font-size="17">250</text>
<text class="mz" x="336.8" y="1340">m/z</text>
<text class="ri" transform="translate(15.6,1224.7) rotate(-90)" text-anchor="middle" textLength="151.5" lengthAdjust="spacingAndGlyphs">Relative intensity</text>
<path class="ms" d="M77.4,1318.7V1292.8M83.3,1318.7V1246.9M85.4,1318.7V1262M86.5,1318.7V1314.7M89.5,1318.7V1310.7M92,1318.7V1316.2M101.4,1318.7V1312.8M103.4,1318.7V1260.5M104.5,1318.7V1315.7M111.4,1318.7V1305.1M113.5,1318.7V1314.5M115.8,1318.7V1314.5M121.5,1318.7V1316.4M127.4,1318.7V1274.1M129.5,1318.7V1313.1M131,1318.7V1315.7M135.4,1318.7V1299M137.2,1318.7V1311.7M139.3,1318.7V1307M141,1318.7V1315.7M144.3,1318.7V1301.3M145.2,1318.7V1239.4M147,1318.7V1315.2M151.2,1318.7V1310.3M153,1318.7V1315.2M155,1318.7V1314.7M157.1,1318.7V1309.3M159,1318.7V1315.7M161.5,1318.7V1313.1M163,1318.7V1314.7M167.2,1318.7V1314M171.2,1318.7V1285.4M173.1,1318.7V1312.6M175,1318.7V1314.7M177.2,1318.7V1301.3M179,1318.7V1315.2M181.3,1318.7V1272.3M183,1318.7V1314.7M185.2,1318.7V1305.6M187,1318.7V1315.7M189.1,1318.7V1314M191.5,1318.7V1314.7M193.6,1318.7V1311.7M195.5,1318.7V1314.2M199,1318.7V1315.7M201.2,1318.7V1309.8M203,1318.7V1315.7M205.1,1318.7V1306.5M207,1318.7V1315.7M213,1318.7V1316.7M217.2,1318.7V1243.7M218.5,1318.7V1309.3M220,1318.7V1315.7M223,1318.7V1316.7M227,1318.7V1315.7M229.2,1318.7V1309.3M231,1318.7V1316.2M233.5,1318.7V1314.7M235.1,1318.7V1305.1M237,1318.7V1316.2M245.1,1318.7V1296.2M247,1318.7V1315.7M259,1318.7V1316.4M260.3,1318.7V1316.4M263.2,1318.7V1314.5M273.1,1318.7V1230.5M274.2,1318.7V1304.2M290.5,1318.7V1177.2M292,1318.7V1297.6M294,1318.7V1317.2"/>
<text x="74.4" y="1152.7" font-weight="bold" font-size="17" textLength="100.6" lengthAdjust="spacingAndGlyphs">Pinobanksin</text>
<text class="bl" x="267.4" y="1173" textLength="66.8" lengthAdjust="spacingAndGlyphs">271.0609</text>
<text class="bl" x="117.1" y="1233.5" textLength="65.9" lengthAdjust="spacingAndGlyphs">125.0242</text>
<text class="bl" x="149.6" y="1269.8" textLength="65.8" lengthAdjust="spacingAndGlyphs">151.0033</text>

<path class="bt" d="M466,1131H737.8M466,1318.7H737.8"/>
<path class="bx" d="M470,1131V1324.5M737.8,1131V1318.7M466,1157.5H470M466,1211.4H470M466,1265.2H470M569.5,1318.7V1324.5M668.5,1318.7V1324.5"/>
<text class="mt" x="448.8" y="1163.1" text-anchor="end">3.0</text>
<text class="mt" x="448.8" y="1217" text-anchor="end">2.0</text>
<text class="mt" x="448.8" y="1270.8" text-anchor="end">1.0</text>
<text class="mt" x="448.8" y="1324.3" text-anchor="end">0.0</text>
<text class="mt" x="470" y="1347" text-anchor="middle" font-size="17">50</text>
<text class="mt" x="569.5" y="1347" text-anchor="middle" font-size="17">150</text>
<text class="mt" x="668.5" y="1347" text-anchor="middle" font-size="17">250</text>
<text class="mz" x="736.3" y="1340">m/z</text>
<text class="ri" transform="translate(415.1,1224.2) rotate(-90)" text-anchor="middle" textLength="152.5" lengthAdjust="spacingAndGlyphs">Relative intensity</text>
<path class="ms" d="M484,1318.7V1313.9M486,1318.7V1316M493,1318.7V1316.5M502.6,1318.7V1315.5M511,1318.7V1316.5M520,1318.7V1314.4M527.7,1318.7V1314.4M535,1318.7V1316.5M540,1318.7V1316M545,1318.7V1317.1M550,1318.7V1315.5M555,1318.7V1314.9M558,1318.7V1313.3M561.9,1318.7V1309.6M563,1318.7V1312.2M566,1318.7V1316M570,1318.7V1316.5M575,1318.7V1315.5M580,1318.7V1316M583,1318.7V1314.4M586,1318.7V1312.2M588,1318.7V1306.9M589.5,1318.7V1307.9M592,1318.7V1315.5M600,1318.7V1316.5M605,1318.7V1316M612,1318.7V1313.3M614,1318.7V1312.2M616,1318.7V1315.5M622,1318.7V1316.5M631.8,1318.7V1311.7M633,1318.7V1316M643.3,1318.7V1313.3M645,1318.7V1316.5M657.4,1318.7V1316M668,1318.7V1317.6M687.6,1318.7V1171.8M688.6,1318.7V1294.5"/>
<text x="471.4" y="1152.7" font-weight="bold" font-size="17" textLength="72.4" lengthAdjust="spacingAndGlyphs">Galangin</text>
<text class="bl" x="665" y="1167.2" textLength="66" lengthAdjust="spacingAndGlyphs">269.0450</text>
<text class="bl" x="475" y="1299" textLength="65" lengthAdjust="spacingAndGlyphs">117.0343</text>
<text class="bl" x="552.9" y="1302" textLength="66.3" lengthAdjust="spacingAndGlyphs">151.0547</text>
<path class="bn" d="M529.2,1301.8L536.8,1315.2M574.5,1302.3L570.5,1316"/>
</g>

<!-- ============ PANEL H ============ -->
<g transform="matrix(.996 0 0 .996 3.136 4.234)">
<text class="let" x="798" y="1093">h</text>
<g transform="translate(889.5,1217)">
<path class="bd" d="M0,-23L19.92,-11.5L19.92,11.5L0,23L-19.92,11.5L-19.92,-11.5Z M-16.33,-9.43V9.43 M0,-18.86L16.33,-9.43 M0,18.86L16.33,9.43 M19.92,-11.5L33.8,-19.5 M45.9,-19.5L59.76,-11.5 M59.76,11.5L39.84,23L19.92,11.5 M38.3,23.9V42.5 M41.4,23.9V42.5 M0,23V42 M-19.92,-11.5L-33.5,-19.3 M59.76,-11.5L79.68,-23 M99.6,-57.5L119.52,-46L119.52,-23L99.6,-11.5L79.68,-23L79.68,-46Z M83.27,-43.93V-25.07 M99.6,-53.36L115.93,-43.93 M99.6,-15.64L115.93,-25.07 M59.76,-11.5V11.5"/>
<text class="at" x="-57.3" y="-17" textLength="21.7" lengthAdjust="spacingAndGlyphs">HO</text>
<text class="at" x="35.5" y="-17" textLength="10.2" lengthAdjust="spacingAndGlyphs">O</text>
<text class="at" x="-5.5" y="53.3" textLength="21" lengthAdjust="spacingAndGlyphs">OH</text>
<text class="at" x="35.5" y="53.3" textLength="10.2" lengthAdjust="spacingAndGlyphs">O</text>
</g>
<g transform="translate(1154.4,1217)">
<path class="bd" d="M0,-23L19.92,-11.5L19.92,11.5L0,23L-19.92,11.5L-19.92,-11.5Z M-16.33,-9.43V9.43 M0,-18.86L16.33,-9.43 M0,18.86L16.33,9.43 M19.92,-11.5L33.8,-19.5 M45.9,-19.5L59.76,-11.5 M59.76,11.5L39.84,23L19.92,11.5 M38.3,23.9V42.5 M41.4,23.9V42.5 M0,23V42 M-19.92,-11.5L-33.5,-19.3 M59.76,-11.5L79.68,-23 M99.6,-57.5L119.52,-46L119.52,-23L99.6,-11.5L79.68,-23L79.68,-46Z M83.27,-43.93V-25.07 M99.6,-53.36L115.93,-43.93 M99.6,-15.64L115.93,-25.07 M59.76,-11.5V11.5"/>
<path d="M59.76,11.5L73,19.5" stroke="#ff1a1a" stroke-width=".8"/>
<text class="at" x="-57.3" y="-17" textLength="21.7" lengthAdjust="spacingAndGlyphs">HO</text>
<text class="at" x="35.5" y="-17" textLength="10.2" lengthAdjust="spacingAndGlyphs">O</text>
<text class="at" x="-5.5" y="53.3" textLength="21" lengthAdjust="spacingAndGlyphs">OH</text>
<text class="at" x="35.5" y="53.3" textLength="10.2" lengthAdjust="spacingAndGlyphs">O</text>
<text class="at" x="75" y="30.3" fill="#ff1a1a" textLength="22.5" lengthAdjust="spacingAndGlyphs">OH</text>
</g>
<g transform="translate(1412.5,1217)">
<path class="bd" d="M0,-23L19.92,-11.5L19.92,11.5L0,23L-19.92,11.5L-19.92,-11.5Z M-16.33,-9.43V9.43 M0,-18.86L16.33,-9.43 M0,18.86L16.33,9.43 M19.92,-11.5L33.8,-19.5 M45.9,-19.5L59.76,-11.5 M59.76,11.5L39.84,23L19.92,11.5 M38.3,23.9V42.5 M41.4,23.9V42.5 M0,23V42 M-19.92,-11.5L-33.5,-19.3 M59.76,-11.5L79.68,-23 M99.6,-57.5L119.52,-46L119.52,-23L99.6,-11.5L79.68,-23L79.68,-46Z M83.27,-43.93V-25.07 M99.6,-53.36L115.93,-43.93 M99.6,-15.64L115.93,-25.07 M59.76,11.5L73,19.5"/>
<path d="M59.76,-11.5V11.5M56.17,-9.43V9.43" stroke="#ff1a1a" stroke-width=".8"/>
<text class="at" x="-57.3" y="-17" textLength="21.7" lengthAdjust="spacingAndGlyphs">HO</text>
<text class="at" x="35.5" y="-17" textLength="10.2" lengthAdjust="spacingAndGlyphs">O</text>
<text class="at" x="-5.5" y="53.3" textLength="21" lengthAdjust="spacingAndGlyphs">OH</text>
<text class="at" x="35.5" y="53.3" textLength="10.2" lengthAdjust="spacingAndGlyphs">O</text>
<text class="at" x="76.3" y="30.3" textLength="22" lengthAdjust="spacingAndGlyphs">OH</text>
</g>
<path d="M1037.8,1235.4H1090M1299,1235.4H1351.5" stroke="#000" stroke-width="3.2"/>
<path d="M1083,1229.3L1092.5,1235.4L1083,1241.5M1344.5,1229.3L1354,1235.4L1344.5,1241.5" fill="none" stroke="#000" stroke-width="2.8"/>
<text class="nm" x="1026.8" y="1260.4" textLength="66.3" lengthAdjust="spacingAndGlyphs">Sb2ODD8</text>
<text class="nm" x="1026.8" y="1277.7" textLength="73.8" lengthAdjust="spacingAndGlyphs">Sb2ODD11</text>
<text class="nm" x="1026.8" y="1295" textLength="74.8" lengthAdjust="spacingAndGlyphs">Sb2ODD12</text>
<text class="nm" x="1291.6" y="1260.4" textLength="66.3" lengthAdjust="spacingAndGlyphs">Sb2ODD8</text>
<text class="nm" x="1291.6" y="1277.7" textLength="73.8" lengthAdjust="spacingAndGlyphs">Sb2ODD11</text>
<text class="nm" x="1291.6" y="1295" textLength="74.8" lengthAdjust="spacingAndGlyphs">Sb2ODD12</text>
<text class="nm" x="892" y="1299" textLength="88" lengthAdjust="spacingAndGlyphs">Pinocembrin</text>
<text class="nm" x="1153.4" y="1299" textLength="85.5" lengthAdjust="spacingAndGlyphs">Pinobanksin</text>
<text class="nm" x="1424.8" y="1299" textLength="61.3" lengthAdjust="spacingAndGlyphs">Galangin</text>
</g>
</svg>
</body></html>
